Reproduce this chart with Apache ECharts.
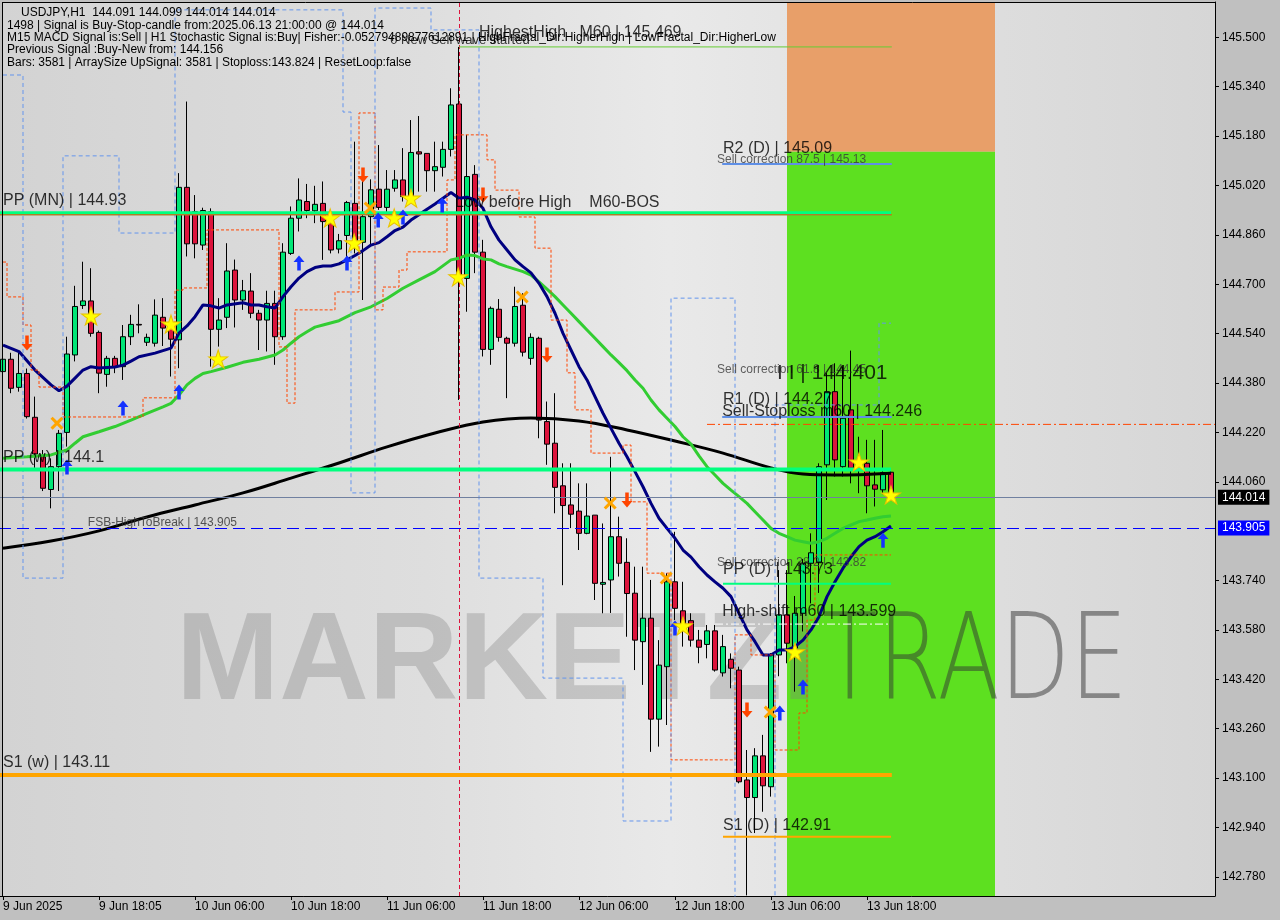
<!DOCTYPE html>
<html>
<head>
<meta charset="utf-8">
<script src="https://cdn.jsdelivr.net/npm/echarts@6.0.0/dist/echarts.min.js"></script>
<style>
html,body{margin:0;padding:0;background:#c0c0c0;}
#chart{width:1280px;height:920px;}
</style>
</head>
<body>
<div id="chart"></div>
<script>
// ---------------- DATA ----------------
const xTickIndex = [0,12,24,36,48,60,72,84,96,108];
const xTickLabels = ['9 Jun 2025','9 Jun 18:05','10 Jun 06:00','10 Jun 18:00','11 Jun 06:00','11 Jun 18:00','12 Jun 06:00','12 Jun 18:00','13 Jun 06:00','13 Jun 18:00'];
const yTickValues = [145.5,145.34,145.18,145.02,144.86,144.7,144.54,144.38,144.22,144.06,143.74,143.58,143.42,143.26,143.1,142.94,142.78];

const opens = [144.417,144.457,144.366,144.411,144.269,144.141,144.035,144.109,144.220,144.471,
144.631,144.646,144.544,144.408,144.460,144.433,144.530,144.570,144.512,144.509,
144.593,144.558,144.520,145.014,144.935,144.827,144.935,144.554,144.593,144.746,
144.649,144.678,144.606,144.584,144.638,144.530,144.800,144.914,144.968,144.938,
144.962,144.898,144.814,144.858,144.962,144.836,144.919,145.008,144.949,145.011,
145.038,144.984,145.129,145.124,145.068,145.079,145.137,145.284,144.719,145.056,
144.804,144.489,144.619,144.525,144.509,144.632,144.460,144.525,144.255,144.185,
144.047,143.985,143.965,143.893,143.952,143.728,143.742,143.882,143.799,143.699,
143.542,143.618,143.291,143.461,143.736,143.642,143.610,143.547,143.533,143.577,
143.441,143.485,143.450,143.094,143.037,143.172,143.072,143.499,143.629,143.521,
143.634,143.796,143.800,144.115,144.352,144.109,144.293,144.120,144.120,144.050,
144.034,144.091];
const closes = [144.457,144.363,144.411,144.271,144.150,144.039,144.109,144.217,144.474,144.628,
144.646,144.541,144.412,144.460,144.433,144.530,144.570,144.568,144.528,144.600,
144.558,144.522,145.014,144.831,144.831,144.939,144.554,144.584,144.743,144.649,
144.679,144.606,144.584,144.638,144.530,144.804,144.914,144.973,144.939,144.959,
144.903,144.811,144.841,144.965,144.833,144.919,145.006,144.949,145.008,145.038,
144.984,145.127,145.122,145.068,145.081,145.137,145.281,144.719,145.049,144.804,
144.489,144.622,144.528,144.509,144.628,144.480,144.528,144.260,144.182,144.042,
143.983,143.955,143.893,143.949,143.731,143.734,143.882,143.796,143.698,143.547,
143.618,143.291,143.466,143.736,143.650,143.580,143.547,143.524,143.577,143.450,
143.526,143.456,143.088,143.037,143.172,143.075,143.499,143.629,143.537,143.634,
143.796,143.830,144.109,144.352,144.131,144.266,144.104,144.104,144.047,144.036,
144.090,144.014];
const lows = [144.400,144.347,144.352,144.265,144.105,144.030,143.974,144.030,144.174,144.450,
144.620,144.530,144.347,144.368,144.412,144.390,144.503,144.541,144.500,144.498,
144.500,144.401,144.428,144.790,144.784,144.811,144.433,144.498,144.558,144.560,
144.617,144.590,144.487,144.482,144.439,144.520,144.795,144.871,144.914,144.898,
144.779,144.800,144.800,144.780,144.800,144.649,144.822,144.941,144.930,145.000,
144.968,144.979,145.000,145.000,145.000,145.049,145.114,144.325,144.611,144.736,
144.466,144.439,144.514,144.331,144.498,144.466,144.439,144.201,144.115,143.958,
143.725,143.910,143.839,143.890,143.677,143.634,143.635,143.753,143.558,143.450,
143.402,143.185,143.202,143.272,143.612,143.526,143.526,143.472,143.488,143.445,
143.429,143.391,143.083,142.720,142.922,142.991,143.040,143.430,143.472,143.380,
143.575,143.666,143.700,144.001,144.077,144.077,144.055,144.023,143.958,143.980,
144.020,144.014];
const highs = [144.470,144.478,144.478,144.427,144.336,144.163,144.136,144.228,144.530,144.695,
144.773,144.752,144.550,144.468,144.468,144.568,144.601,144.635,144.540,144.651,
144.655,144.593,145.060,145.292,144.989,144.948,144.946,144.655,144.833,144.780,
144.714,144.736,144.617,144.679,144.679,144.833,144.952,145.043,145.025,145.019,
145.033,144.898,144.863,144.970,145.162,145.038,145.040,145.151,145.070,145.070,
145.141,145.232,145.245,145.124,145.162,145.162,145.335,145.469,145.184,145.086,
144.844,144.628,144.652,144.530,144.692,144.671,144.541,144.530,144.320,144.347,
144.120,144.120,144.055,144.055,143.952,143.925,144.141,143.947,143.877,143.785,
143.785,143.742,143.547,143.764,143.898,143.736,143.634,143.580,143.596,143.596,
143.564,143.504,143.461,143.191,143.197,143.240,143.505,143.774,143.774,143.690,
143.810,143.893,144.120,144.412,144.444,144.433,144.485,144.206,144.196,144.196,
144.228,144.099];

// fast MA (navy)
const navyIdx = [0,2,4,6,7,8,9,10,11,12,14,15,16,17,19,21,22,23,24,25,26,27,28,30,31,32,33,34,35,36,
37,38,39,40,41,42,43,44,45,46,47,48,49,50,51,52,53,54,55,56,57,58,59,60,61,62,63,64,65,66,
67,68,69,70,71,72,73,74,75,76,77,78,79,80,81,82,83,84,85,86,87,88,89,90,91,92,93,94,95,96,
97,98,99,100,101,102,103,104,105,106,107,108,109,110,111];
const navyVal = [144.503,144.482,144.422,144.374,144.355,144.370,144.396,144.422,144.433,144.429,
144.432,144.438,144.451,144.465,144.477,144.493,144.542,144.565,144.595,144.633,
144.630,144.623,144.633,144.640,144.633,144.633,144.627,144.623,144.660,144.692,
144.720,144.741,144.754,144.759,144.759,144.766,144.779,144.793,144.809,144.827,
144.835,144.854,144.874,144.885,144.908,144.925,144.943,144.960,144.979,144.997,
144.979,144.982,144.973,144.946,144.886,144.843,144.811,144.779,144.757,144.737,
144.703,144.660,144.606,144.541,144.487,144.433,144.390,144.336,144.282,144.233,
144.185,144.141,144.093,144.044,143.990,143.942,143.909,143.877,143.839,143.816,
143.785,143.758,143.736,143.715,143.688,143.634,143.580,143.542,143.499,143.499,
143.515,143.515,143.526,143.547,143.580,143.623,143.688,143.736,143.780,143.817,
143.850,143.871,143.882,143.898,143.917];

// medium MA (green)
const greenIdx = [0,3,6,8,9,10,12,14,16,18,20,21,22,23,24,25,26,28,30,32,34,35,36,37,38,39,40,42,43,44,
46,48,50,52,54,56,57,58,59,60,61,62,63,64,65,66,67,68,69,70,71,72,73,74,75,76,77,78,79,80,
81,82,83,84,85,86,87,88,89,90,91,92,93,94,95,96,97,98,99,100,101,102,103,104,105,106,107,108,109,110,111];
const greenVal = [144.136,144.141,144.147,144.163,144.185,144.206,144.222,144.239,144.260,144.282,
144.303,144.314,144.341,144.374,144.395,144.411,144.417,144.431,144.447,144.457,
144.471,144.487,144.509,144.530,144.546,144.561,144.568,144.582,144.595,144.608,
144.627,144.654,144.687,144.714,144.741,144.779,144.784,144.795,144.793,144.782,
144.779,144.766,144.757,144.749,144.741,144.730,144.708,144.684,144.660,144.633,
144.606,144.579,144.552,144.525,144.498,144.471,144.446,144.420,144.390,144.363,
144.325,144.293,144.266,144.239,144.206,144.182,144.144,144.109,144.082,144.055,
144.033,144.012,143.990,143.963,143.936,143.909,143.893,143.882,143.871,143.866,
143.861,143.866,143.877,143.893,143.909,143.920,143.931,143.936,143.942,143.947,
143.949];

// slow MA (black)
const blackIdx = [0,6,12,18,24,30,36,42,48,54,60,66,72,78,84,90,96,100,104,111];
const blackVal = [143.845,143.868,143.901,143.946,143.985,144.024,144.072,144.121,144.173,144.218,
144.254,144.267,144.257,144.228,144.192,144.153,144.105,144.085,144.082,144.088];

// step lines: [number of bars, level]
const orangeStopRuns = [[1,144.772],[2,144.659],[1,144.568],[1,144.422],[3,144.367],[10,144.270],[4,144.332],
[1,144.681],[3,144.688],[9,144.876],[1,144.497],[1,144.315],[5,144.617],[3,144.675],[2,145.255],[1,144.617],
[2,144.691],[1,144.746],[5,144.805],[1,145.038],[4,145.184],[1,145.103],[3,145.005],[2,144.918],[2,144.817],
[2,144.584],[1,144.413],[2,144.293],[4,144.153],[1,144.179],[2,143.995],[3,143.764],[8,143.159],[2,143.564],
[3,143.499],[3,143.191],[1,143.311],[1,143.612],[10,143.823]];
const blueBandRuns = [[3,145.378],[5,143.748],[7,145.116],[7,144.866],[21,145.589],[1,145.258],[3,144.024],
[7,145.595],[6,145.524],[8,143.748],[10,143.424],[6,142.961],[8,144.655],[5,142.650],[13,144.309],[2,144.574]];

// horizontal levels
const levelPrice = [144.93,144.1,143.11,145.09,144.27,143.73,142.91,143.599,144.246,145.469,144.925];
const levelFrom  = [-0.5,-0.5,-0.5,89.9,89.9,90,90,89,88,57,-0.5];
const levelTo    = [111,111,111.1,111.1,111.1,111,111,111,151.5,111.1,111.1];
const fsbPrice = 143.905;
const lastPrice = 144.014;
const markerBar = 57;

// zones
const zoneFrom = [98,98];
const zoneTo = [124,124];
const zoneTop = [145.6145,145.129];
const zoneBottom = [145.129,142.718];

// signal markers
const starBar = [11,21,26.9,40.9,43.9,48.9,51,56.9,85,99,107,111];
const starPrice = [144.597,144.571,144.458,144.915,144.834,144.915,144.979,144.724,143.593,143.509,144.124,144.017];
const upBar = [15,22,8,37,43,46.9,50,54.9,84,97.1,100,110];
const upPrice = [144.299,144.351,144.108,144.769,144.769,144.908,144.918,144.957,143.586,143.311,143.395,143.871];
const downBar = [3,45,60,68,78,93];
const downPrice = [144.510,145.054,144.989,144.471,144.001,143.321];
const crossBar = [6.75,45.9,64.9,75.9,82.9,95.9];
const crossPrice = [144.250,144.947,144.659,143.991,143.748,143.314];

// annotations
const annoText = ['PP (MN) | 144.93','PP (w) | 144.1','S1 (w) | 143.11','FSB-HighToBreak | 143.905','R2 (D) | 145.09',
'Sell correction 87.5 | 145.13','Low before High    M60-BOS','HighestHigh   M60 | 145.469','0 New Sell wave started',
'Sell correction 61.8 | 144.45','I I | 144.401','R1 (D) | 144.27','Sell-Stoploss m60 | 144.246','Sell correction 38.2 | 143.82',
'PP (D) | 143.73','High-shift m60 | 143.599','S1 (D) | 142.91'];
const annoBar = [0,0,0,10.6,90,89.25,56.5,59.5,48.4,89.25,96.75,90,89.9,89.25,90,89.9,90];
const annoPrice = [144.970,144.137,143.149,143.927,145.141,145.103,144.963,145.514,145.491,144.422,144.413,144.325,144.286,143.797,143.774,143.638,142.945];

const headerLines = [
 'USDJPY,H1  144.091 144.099 144.014 144.014',
 '1498 | Signal is Buy-Stop-candle from:2025.06.13 21:00:00 @ 144.014',
 'M15 MACD Signal is:Sell | H1 Stochastic Signal is:Buy| Fisher:-0.05279489877612891 | HighFractal_Dir:HigherHigh | LowFractal_Dir:HigherLow',
 'Previous Signal :Buy-New from: 144.156',
 'Bars: 3581 | ArraySize UpSignal: 3581 | Stoploss:143.824 | ResetLoop:false'
];

// ---------------- STYLES ----------------
const FONT = "'Liberation Sans', Arial, sans-serif";
const levelColor = ['#00FF7F','#00FF7F','#FFA500','#5F8FE6','#5F8FE6','#00FF7F','#FFA500','#FFFFFF','#FF4500','#66CC33','#FF4500'];
const levelWidth = [4,4,4,2,2,2,2,1,1,1,1];
const levelType  = ['solid','solid','solid','solid','solid','solid','solid',[8,3,2,3],[8,3,2,3],'solid','solid'];
const zoneColor = ['#E89F69','#5DE020'];
const annoSize = [16,16,16,12,16,12,16,16,13,12,21,16,16,12,16,16,16];
const annoColor = ['#000','#000','#000','#303030','#000','#3a3a3a','#000','#000','#000','#3a3a3a','#000','#000','#000','#3a3a3a','#000','#000','#000'];
const headerX = [21,7,7,7,7];

// ---------------- BUILD ----------------
const nSlots = 152;
const yMin = 142.718, yMax = 145.6145;
const categories = Array.from({length:nSlots}, (_,i)=>String(i));
const tickMap = {}; xTickIndex.forEach((ix,k)=>{ tickMap[ix] = xTickLabels[k]; });
const candleData = opens.map((o,i)=>[o, closes[i], lows[i], highs[i]]);
const pairs = (ix, vals) => ix.map((x,k)=>[x, vals[k]]);
const expandRuns = runs => { const out=[]; runs.forEach(([n,v])=>{ for(let k=0;k<n;k++) out.push([out.length, v]); }); return out; };

const ARROW = 'path://M5,0 L10,6 L6.6,6 L6.6,14 L3.4,14 L3.4,6 L0,6 Z';
const STAR = 'path://M50,0 L61,35 L98,35 L68,57 L79,91 L50,70 L21,91 L32,57 L2,35 L39,35 Z';
const CROSS = 'path://M0,2 L2,0 L6,4 L10,0 L12,2 L8,6 L12,10 L10,12 L6,8 L2,12 L0,10 L4,6 Z';

const series = [];
series.push({
  type:'custom', xAxisIndex:1, yAxisIndex:0, z:1, silent:true,
  data: zoneFrom.map((f,k)=>[f, zoneTo[k], zoneTop[k], zoneBottom[k], k]),
  encode:{x:[0,1], y:[2,3]},
  renderItem:(params, api)=>{
    const p1 = api.coord([api.value(0), api.value(2)]);
    const p2 = api.coord([api.value(1), api.value(3)]);
    return {type:'rect', shape:{x:p1[0], y:p1[1], width:p2[0]-p1[0], height:p2[1]-p1[1]},
            style:{fill: zoneColor[api.value(4)]}};
  }
});
series.push({
  type:'candlestick', xAxisIndex:0, yAxisIndex:0, z:3, barWidth:5, silent:true,
  data: candleData,
  itemStyle:{color:'#00E676', color0:'#DC143C', borderColor:'#000', borderColor0:'#000', borderColorDoji:'#000', borderWidth:1},
  markLine:{
    silent:true, symbol:['none','none'], animation:false,
    data:[
      {xAxis: markerBar, lineStyle:{color:'#DC143C', width:1, type:[4,3]}, label:{show:false}},
      {yAxis: fsbPrice, lineStyle:{color:'#0000FF', width:1, type:[12,6]},
       label:{show:true, position:'end', distance:3, formatter: fsbPrice.toFixed(3), color:'#fff', backgroundColor:'#0000FF', padding:[2,4,1,4], fontSize:12, fontFamily:FONT}},
      {yAxis: lastPrice, lineStyle:{color:'#7080A0', width:1, type:'solid'},
       label:{show:true, position:'end', distance:3, formatter: lastPrice.toFixed(3), color:'#fff', backgroundColor:'#000', padding:[2,4,1,4], fontSize:12, fontFamily:FONT}}
    ]
  }
});
series.push({type:'line', xAxisIndex:1, yAxisIndex:0, z:4, data: pairs(blackIdx, blackVal), smooth:0.4, showSymbol:false, silent:true, lineStyle:{color:'#000', width:3}});
series.push({type:'line', xAxisIndex:1, yAxisIndex:0, z:4, data: pairs(greenIdx, greenVal), showSymbol:false, silent:true, lineStyle:{color:'#32CD32', width:3}});
series.push({type:'line', xAxisIndex:1, yAxisIndex:0, z:4, data: pairs(navyIdx, navyVal), showSymbol:false, silent:true, lineStyle:{color:'#000080', width:3}});
series.push({type:'line', xAxisIndex:1, yAxisIndex:0, z:4, data: expandRuns(orangeStopRuns), step:'middle', showSymbol:false, silent:true, lineStyle:{color:'#FF4500', width:1, type:[3,2]}});
series.push({type:'line', xAxisIndex:1, yAxisIndex:0, z:4, data: expandRuns(blueBandRuns), step:'middle', showSymbol:false, silent:true, lineStyle:{color:'#6495ED', width:1, type:[4,3]}});
levelPrice.forEach((p,k)=>{
  series.push({type:'line', xAxisIndex:1, yAxisIndex:0, z:5, showSymbol:false, silent:true,
    data:[[levelFrom[k], p],[levelTo[k], p]],
    lineStyle:{color:levelColor[k], width:levelWidth[k], type:levelType[k]}});
});
const scatter = (bars, prices, symbol, size, color, rotate, border) => ({
  type:'scatter', xAxisIndex:1, yAxisIndex:0, z:6, silent:true, symbol, symbolSize:size, symbolRotate:rotate||0,
  itemStyle:{color, borderColor: border||color, borderWidth: border?1:0, opacity:1},
  data: bars.map((b,k)=>[b, prices[k]])
});
series.push(scatter(upBar, upPrice, ARROW, [11,15], '#1432FF'));
series.push(scatter(downBar, downPrice, ARROW, [11,15], '#FF4500', 180));
series.push(scatter(crossBar, crossPrice, CROSS, [13,13], '#FFA500'));
series.push(scatter(starBar, starPrice, STAR, [19,18], '#FFFF00', 0, '#E8C000'));
series.push({
  type:'scatter', xAxisIndex:1, yAxisIndex:0, z:7, silent:true, symbolSize:0,
  data: annoText.map((t,k)=>({value:[annoBar[k], annoPrice[k]],
    label:{show:true, position:'right', distance:0, formatter:t, fontSize:annoSize[k], color:annoColor[k], fontFamily:FONT}}))
});

const graphics = [
  {type:'rect', z:-10, silent:true, shape:{x:2, y:2, width:1213, height:894},
   style:{fill:new echarts.graphic.LinearGradient(0,0,1,0,[
     {offset:0, color:'#d3d3d3'},{offset:0.35,color:'#dedede'},{offset:0.55,color:'#e9e9e9'},{offset:0.75,color:'#e0e0e0'},{offset:1,color:'#d6d6d6'}])}},
  {type:'text', z:2, silent:true, x:176, y:727, style:{text:'MARKETZI', fontSize:124, fontWeight:'bold', fontFamily:FONT, fill:'rgba(125,125,125,0.32)', textVerticalAlign:'bottom'}},
  {type:'text', z:2, silent:true, x:822, y:727, scaleX:0.76, scaleY:1, style:{text:'TRADE', fontSize:120, fontWeight:200, fontFamily:"'DejaVu Sans'", fill:'rgba(50,50,50,0.5)', textVerticalAlign:'bottom'}},
  {type:'line', z:20, silent:true, shape:{x1:2.5, y1:2, x2:2.5, y2:896}, style:{stroke:'#000', lineWidth:1}},
  {type:'line', z:20, silent:true, shape:{x1:2, y1:2.5, x2:1216, y2:2.5}, style:{stroke:'#000', lineWidth:1}}
];
headerLines.forEach((t,k)=>{
  graphics.push({type:'text', z:20, silent:true, x:headerX[k], y:13+12.3*k,
    style:{text:t, fontSize:12, fontFamily:FONT, fill:'#000', textVerticalAlign:'middle'}});
});

const chart = echarts.init(document.getElementById('chart'), null, {width:1280, height:920});
chart.setOption({
  animation:false,
  backgroundColor:'#c0c0c0',
  grid:{left:-1, top:2, width:1216, height:894, containLabel:false, outerBoundsMode:'none'},
  xAxis:[
    {type:'category', data:categories, boundaryGap:true, position:'bottom',
     axisLine:{show:true, onZero:false, lineStyle:{color:'#000', width:1}},
     axisTick:{show:true, alignWithLabel:true, length:4, interval:(i)=>tickMap[i]!==undefined, lineStyle:{color:'#000'}},
     axisLabel:{show:true, interval:(i)=>tickMap[i]!==undefined, formatter:(v,i)=>tickMap[i]||'', align:'left', margin:5, color:'#000', fontSize:12, fontFamily:FONT},
     splitLine:{show:false}},
    {type:'value', min:-0.5, max:nSlots-0.5, show:false, splitLine:{show:false}, axisLine:{onZero:false}}
  ],
  yAxis:[{type:'value', position:'right', min:yMin, max:yMax, scale:true,
    axisLine:{show:true, onZero:false, lineStyle:{color:'#000', width:1}},
    axisTick:{show:true, length:4, inside:false, customValues:yTickValues, lineStyle:{color:'#000'}},
    axisLabel:{show:true, customValues:yTickValues, formatter:(v)=>Number(v).toFixed(3), margin:7, color:'#000', fontSize:12, fontFamily:FONT},
    splitLine:{show:false}}],
  graphic:{elements:graphics},
  series
});
</script>
</body>
</html>
